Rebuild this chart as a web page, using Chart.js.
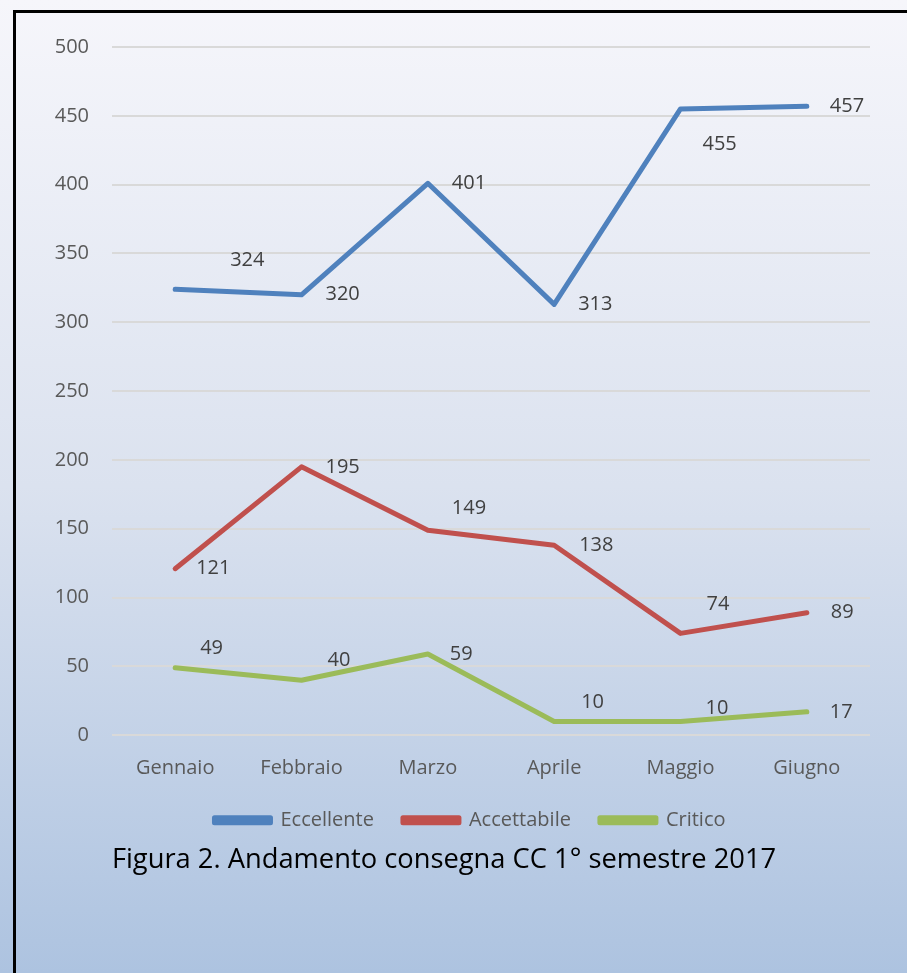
<!DOCTYPE html>
<html>
<head>
<meta charset="utf-8">
<script src="https://cdn.jsdelivr.net/npm/chart.js@4"></script>
<style>
  html, body { margin: 0; padding: 0; }
  body {
    width: 907px; height: 973px; overflow: hidden; position: relative;
    background: linear-gradient(#f6f6fb 0%, #dbe2ef 50%, #adc3e0 100%);
  }
  #frame {
    position: absolute; left: 13px; top: 10px; width: 1000px; height: 1000px;
    border-left: 3px solid #000; border-top: 3px solid #000;
  }
  #wrap { position: absolute; left: 0; top: 0; width: 907px; height: 973px; }
</style>
</head>
<body>
<div id="frame"></div>
<div id="wrap"><canvas id="chart"></canvas></div>
<script>
const months = ['Gennaio', 'Febbraio', 'Marzo', 'Aprile', 'Maggio', 'Giugno'];
const eccellente = [324, 320, 401, 313, 455, 457];
const accettabile = [121, 195, 149, 138, 74, 89];
const critico = [49, 40, 59, 10, 10, 17];
const yTicks = [0, 50, 100, 150, 200, 250, 300, 350, 400, 450, 500];

// where each value label sits relative to its point (dx, dy)
const labelOffsets = [
  [[55, -29], [24, 0], [24, 0], [24, 0], [22, 35], [23, 0]],
  [[21, 0], [24, 0], [24, -22], [25, 0], [26, -29], [24, 0]],
  [[25, -19], [26, -20], [22, 0], [27, -19], [25, -13], [23, 0]]
];

const FONT = '"Open Sans", "Noto Sans", sans-serif';

const valueLabels = {
  id: 'valueLabels',
  afterDatasetsDraw(chart) {
    const ctx = chart.ctx;
    ctx.save();
    ctx.font = '20px ' + FONT;
    ctx.fillStyle = '#404040';
    ctx.textAlign = 'left';
    ctx.textBaseline = 'middle';
    chart.data.datasets.forEach((ds, di) => {
      const meta = chart.getDatasetMeta(di);
      meta.data.forEach((pt, i) => {
        const off = labelOffsets[di][i];
        ctx.fillText(String(ds.data[i]), pt.x + off[0], pt.y + off[1]);
      });
    });
    ctx.restore();
  }
};

// the legend in the original sits a bit right of the caption
const nudgeLegend = {
  id: 'nudgeLegend',
  afterLayout(chart) {
    if (chart.legend) chart.legend.left += 52;
  }
};

function line(label, data, color) {
  return {
    label: label,
    data: data,
    borderColor: color,
    backgroundColor: color,
    borderWidth: 5,
    borderCapStyle: 'round',
    borderJoinStyle: 'round',
    pointRadius: 0,
    pointHoverRadius: 0,
    tension: 0
  };
}

new Chart(document.getElementById('chart'), {
  type: 'line',
  data: {
    labels: months,
    datasets: [
      line('Eccellente', eccellente, '#4f81bd'),
      line('Accettabile', accettabile, '#c0504d'),
      line('Critico', critico, '#9bbb59')
    ]
  },
  options: {
    responsive: true,
    maintainAspectRatio: false,
    animation: false,
    layout: { padding: { left: 18, right: 37, top: 47, bottom: 96 } },
    scales: {
      x: {
        offset: true,
        grid: { display: false, drawTicks: false },
        border: { display: false },
        ticks: { color: '#595959', font: { family: FONT, size: 20 }, padding: 21 },
        afterFit(scale) { scale.height = 46; }
      },
      y: {
        min: 0,
        max: 500,
        afterBuildTicks(scale) { scale.ticks = yTicks.map(v => ({ value: v })); },
        grid: { color: '#d9d9d9', lineWidth: 2, drawTicks: false },
        border: { display: false },
        ticks: { color: '#595959', font: { family: FONT, size: 20 }, padding: 23 },
        afterFit(scale) { scale.width = 94; }
      }
    },
    plugins: {
      legend: {
        position: 'bottom',
        labels: {
          color: '#595959',
          font: { family: FONT, size: 20 },
          boxWidth: 56,
          boxHeight: 5,
          padding: 29
        }
      },
      title: {
        display: true,
        position: 'bottom',
        text: 'Figura 2. Andamento consegna CC 1° semestre 2017',
        color: '#000000',
        font: { family: FONT, size: 27.3, weight: 'normal' },
        padding: { top: 4, bottom: 0 }
      },
      tooltip: { enabled: false }
    }
  },
  plugins: [valueLabels, nudgeLegend]
});
</script>
</body>
</html>
